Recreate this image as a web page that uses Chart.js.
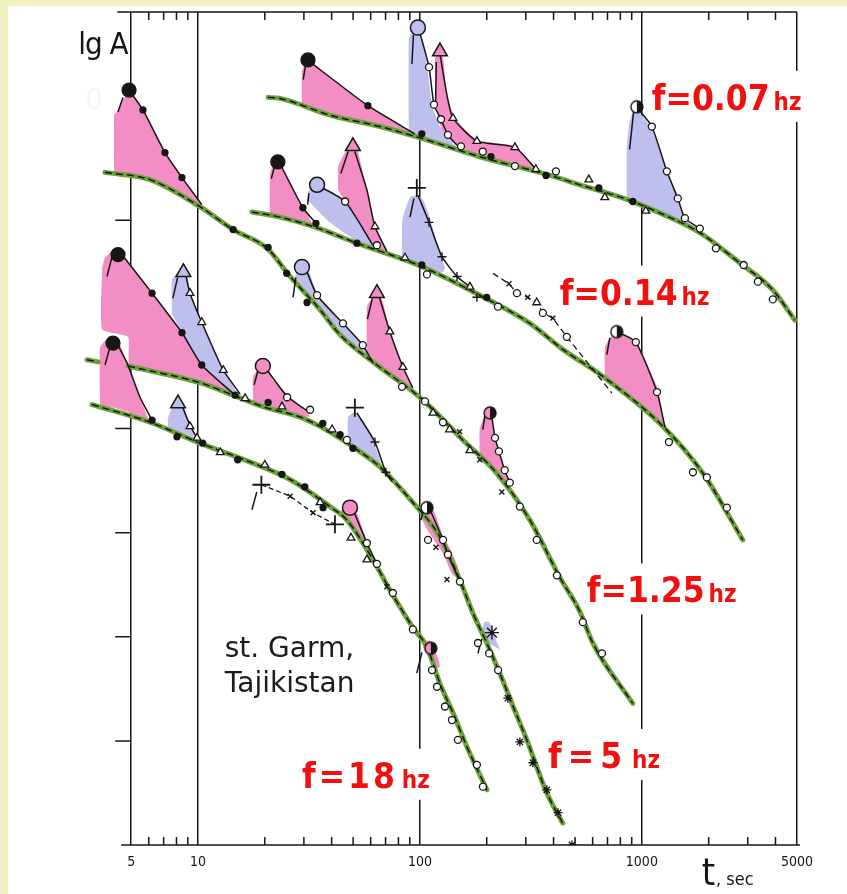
<!DOCTYPE html>
<html>
<head>
<meta charset="utf-8">
<title>Coda envelopes, st. Garm</title>
<script src="https://cdn.jsdelivr.net/npm/chart.js@4.4.1/dist/chart.umd.min.js"></script>
<style>
  html, body { margin: 0; padding: 0; background: #fff; overflow: hidden; }
  canvas { display: block; }
</style>
</head>
<body>
<canvas id="chart" width="847" height="894"></canvas>
<script>
// axis ticks (t in seconds, lgA in relative units)
const MAJOR_TICKS = [5, 10, 100, 1000, 5000];
const MINOR_TICKS = [6, 7, 8, 9, 20, 30, 40, 50, 60, 70, 80, 90, 200, 300, 400, 500, 600, 700, 800, 900, 2000, 3000, 4000];
const LG_TICKS = [1, 2, 3, 4, 5, 6, 7];

// frequency labels
const FREQ_TEXT = ["f=0.07", "f=0.14", "f=1.25", "f=5", "f=18"];
const FREQ_T = [1109, 427, 565, 378, 29.4];
const FREQ_A = [7.06, 5.19, 2.33, 0.74, 0.55];
const FREQ_GAP = [0, 0, 0, 6, 3];

// background coda curves [t, lgA]
const CODA_007 = [[20.7,7.18],[23.4,7.17],[39.3,7.01],[66,6.90],[97,6.80],[186,6.61],[373,6.44],[526,6.34],[855,6.20],[1205,6.07],[1825,5.88],[2760,5.59],[3890,5.33],[4890,5.04]];
const CODA_014 = [[17.5,6.08],[23.4,6.03],[33,5.94],[52,5.78],[93,5.59],[111,5.52],[186,5.28],[313,5.01],[440,4.76],[667,4.50],[1245,4.02],[1884,3.57],[2851,2.93]];
const CODA_125 = [[3.81,6.46],[6.08,6.39],[10.2,6.13],[14.4,5.91],[20.5,5.73],[26,5.46],[35.5,5.14],[43.7,4.90],[64,4.61],[94.8,4.34],[111,4.21],[156,3.89],[222,3.57],[313,3.12],[427,2.57],[526,2.24],[601,1.94],[910,1.36]];
const CODA_5 = [[3.16,4.66],[3.55,4.64],null,[4.84,4.60],[10.2,4.44],[14.4,4.32],[19.6,4.21],[28.8,4.11],[35.5,4.02],[57.7,3.73],[66.1,3.63],[92.9,3.29],[123,2.96],[151,2.55],[173,2.23],[200,1.94],[229,1.65],[263,1.33],[303,1.01],[373,0.50],[440,0.21]];
const CODA_18 = [[3.33,4.23],[6.08,4.06],[10.2,3.86],[17.1,3.68],[26,3.51],[39.3,3.25],[46.9,3.12],[61.4,2.74],[73.2,2.45],[92.9,2.09],[107.6,1.90],[123.1,1.55],[140.9,1.27],[163,0.94],[200.4,0.53]];

// shaded arrivals, pink
const PK_007_A = [[29.4,7.12],[29.4,7.43],[30.6,7.52],[32.6,7.51],[58.3,7.10],[92,6.84],[66,6.90],[39.3,7.01],[29.4,7.12]];
const PK_007_C = [[116.9,7.40],[116.9,7.55],[121,7.62],[126.9,7.57],[132.4,7.20],[143.8,6.98],[180.6,6.77],[268,6.71],[333,6.49],[300,6.51],[200,6.60],[151.4,6.70],[126.9,6.84],[119.4,7.06],[116.9,7.40]];
const PK_014_A = [[21.1,6.05],[21.1,6.45],[22.0,6.55],[23.5,6.55],[29.7,6.12],[32.6,5.97],[27,6.00],[21.1,6.05]];
const PK_014_C = [[42.8,6.29],[42.8,6.51],[46,6.65],[49.9,6.70],[52.5,6.66],[57.7,6.29],[62.7,5.94],[71,5.70],[64,5.74],[55,5.90],[48.4,6.10],[42.8,6.29]];
const PK_014_F = [[681,4.50],[681,4.78],[717,4.87],[771,4.93],[850,4.88],[939,4.82],[1011,4.70],[1170,4.40],[1245,4.03],[1000,4.22],[800,4.38],[681,4.50]];
const PK_125_A = [[4.19,6.44],[4.19,7.01],[4.36,7.06],[4.59,7.16],[4.89,7.22],[5.10,7.19],[5.65,7.06],[7.10,6.65],[8.47,6.41],[10.4,6.15],[7.88,6.26],[6.08,6.39],[4.19,6.44]];
const PK_125_C = [[57.7,4.68],[57.7,5.17],[61,5.25],[64.7,5.29],[68,5.22],[73.2,4.93],[83.8,4.59],[92.9,4.37],[83,4.44],[70,4.55],[59.6,4.66],[57.7,4.68]];
const PK_125_D = [[186,3.73],[186,4.00],[196,4.12],[207,4.16],[218,3.91],[227,3.78],[241,3.60],[256,3.42],[222,3.57],[186,3.73]];
const PK_5_A = [[3.70,5.54],[3.81,5.64],[4.10,5.70],[4.45,5.70],[6.21,5.30],[8.47,4.92],[10.4,4.61],[14.7,4.32],[10.2,4.44],[4.94,4.59],[4.84,4.88],[3.70,4.95],[3.70,5.54]];
const PK_5_C = [[17.7,4.24],[17.7,4.50],[18.6,4.56],[20.7,4.57],[21.8,4.46],[25.2,4.33],[32,4.12],[28.8,4.11],[23,4.17],[17.7,4.24]];
const PK_5_E = [[100,3.16],[104,3.23],[110,3.26],[116,3.20],[127,2.97],[136.5,2.85],[148.3,2.67],[151.4,2.55],[140,2.60],[127,2.80],[110,3.00],[100,3.16]];
const PK_18_A = [[3.62,4.21],[3.62,4.78],[3.9,4.86],[4.3,4.87],[4.79,4.63],[5.48,4.30],[6.0,4.06],[5.0,4.15],[4.2,4.20],[3.62,4.21]];
const PK_18_D = [[43.7,3.17],[44.5,3.22],[46.5,3.27],[50.5,3.25],[57.7,2.92],[64,2.70],[61.4,2.74],[52,2.98],[46.9,3.12],[43.7,3.17]];
const PK_18_E = [[103.2,1.90],[106,1.96],[112,1.96],[120.5,1.80],[123,1.71],[118,1.70],[110,1.80],[103.2,1.90]];

// shaded arrivals, lavender
const LV_007_B = [[89.1,6.82],[89.1,7.73],[93,7.82],[100,7.80],[107.6,7.50],[113.3,7.11],[123.1,6.90],[140.9,6.74],[146.9,6.70],[97,6.80],[89.1,6.82]];
const LV_007_D = [[855,6.20],[855,6.68],[880,6.95],[920,7.06],[960,7.05],[1109,6.88],[1296,6.47],[1452,6.21],[1563,6.02],[1825,5.88],[1205,6.07],[1000,6.14],[855,6.20]];
const LV_014_B = [[31.0,6.20],[31.5,6.28],[33.5,6.34],[36,6.32],[46,6.18],[61.4,5.76],[52,5.80],[39.3,5.98],[31.0,6.20]];
const LV_014_D = [[83.0,5.62],[83.0,5.95],[83.8,6.03],[90.2,6.22],[96.8,6.24],[103.2,6.20],[110.9,6.03],[119.4,5.78],[129.6,5.55],[126.9,5.50],[110,5.53],[96.8,5.57],[83,5.62]];
const LV_125_B = [[27.4,5.45],[27.9,5.52],[29.4,5.58],[31.5,5.52],[34.4,5.30],[45.0,5.01],[55.3,4.80],[61.4,4.63],[50,4.80],[43.7,4.90],[35.5,5.14],[30,5.33],[27.4,5.45]];
const LV_5_B = [[7.64,5.10],[7.64,5.43],[8.2,5.50],[8.9,5.50],[9.20,5.30],[10.4,5.02],[13.0,4.56],[15.0,4.34],[14.7,4.32],[10.4,4.61],[8.47,4.92],[7.64,5.10]];
const LV_5_D = [[47.4,3.85],[47.4,4.11],[49.9,4.15],[52,4.14],[59.6,3.96],[68.1,3.63],[74.8,3.49],[66,3.61],[57.7,3.73],[47.4,3.85]];
const LV_5_F = [[190,2.05],[195,2.14],[205,2.14],[213,2.08],[222,1.95],[229,1.88],[211,1.92],[200,1.96],[190,2.05]];
const LV_18_B = [[7.33,3.99],[7.33,4.10],[7.64,4.20],[8.13,4.27],[8.65,4.20],[9.20,4.03],[9.90,3.91],[8.7,3.95],[7.33,3.99]];

// hand-drawn envelope strokes (onsets and decays), one list per frequency
const LINES_007 = [
  [[29.8,7.35],[30.5,7.49]],
  [[31.5,7.53],[58.3,7.10],[94.8,6.83]],
  [[92.0,7.50],[93.5,7.78]],
  [[100,7.80],[109.9,7.47],[115.7,7.11],[124.4,6.97],[133.7,6.82],[146.9,6.72]],
  [[117.5,7.06],[118.5,7.52]],
  [[123.1,7.60],[132.4,7.20],[140.9,6.98],[180.6,6.76],[268,6.70],[333,6.49]],
  [[880,6.68],[920,7.06]],
  [[960,7.07],[1109,6.90],[1296,6.47],[1452,6.21],[1563,6.02],[1825,5.92]]
];
const LINES_014 = [
  [[21.4,6.40],[22.2,6.53]],
  [[23.3,6.55],[29.7,6.12],[34.0,5.97]],
  [[31.2,6.15],[31.6,6.26]],
  [[35,6.33],[46,6.18],[61.4,5.76]],
  [[44,6.45],[47.5,6.66]],
  [[50.9,6.66],[57.7,6.29],[62.7,5.94],[71,5.70]],
  [[90.2,6.03],[94,6.21]],
  [[98,6.24],[109.9,5.98],[125.7,5.65],[146.9,5.46],[168,5.36]],
  [[695,4.71],[717,4.87]],
  [[790,4.92],[939,4.83],[1170,4.35],[1271,4.01]]
];
const LINES_125 = [
  [[4.36,7.04],[4.59,7.18]],
  [[5.0,7.22],[5.65,7.06],[7.10,6.65],[8.47,6.41],[10.4,6.15]],
  [[26.8,5.26],[27.6,5.45]],
  [[30.5,5.54],[34.4,5.28],[45.0,5.01],[55.3,4.80],[61.4,4.63]],
  [[58,5.05],[61,5.25]],
  [[65.5,5.27],[73.2,4.93],[83.8,4.59],[92.9,4.39]],
  [[192,3.99],[196,4.12]],
  [[210,4.14],[218,3.91],[227,3.78],[241,3.60],[254,3.48]]
];
const LINES_5 = [
  [[3.89,5.46],[4.10,5.65]],
  [[4.5,5.68],[6.21,5.30],[8.47,4.92],[10.4,4.61],[14.7,4.32]],
  [[7.7,5.25],[8.1,5.45]],
  [[8.8,5.48],[9.20,5.30],[10.4,5.02],[13.0,4.56],[15.5,4.33]],
  [[17.9,4.42],[18.6,4.55]],
  [[20.5,4.56],[25.2,4.31],[32,4.15]],
  [[52,4.15],[62.7,3.87],[70.2,3.58],[74.8,3.49]],
  [[101,3.12],[104,3.22]],
  [[110,3.24],[127.1,2.93],[133.7,2.79],[151.4,2.53]],
  [[182.5,1.84],[190,1.98]]
];
const LINES_18 = [
  [[3.81,4.61],[4.01,4.78]],
  [[4.25,4.84],[4.79,4.63],[5.48,4.30],[6.21,4.08]],
  [[8.4,4.24],[9.20,4.03],[9.90,3.91]],
  [[17.5,3.22],[18.4,3.39]],
  [[50,3.22],[57.7,2.90],[64,2.70]],
  [[96.8,1.65],[102.1,1.85]]
];

// dashed auxiliary records
const DASH_014 = [[213.4,5.49],[251.9,5.39],[273.5,5.30],[306,5.26],[336,5.21],[358,5.11],[397,5.06],[459,4.88],[733,4.34]];
const DASH_18 = [[19.3,3.46],[26.0,3.35],[33.0,3.19],[41.4,3.08]];

// measured points by symbol
const DOTS_BIG = [[31.3,7.54],[22.9,6.56],[4.89,7.25],[4.36,5.67],[4.14,4.82]];
const DOTS = [[58.3,7.10],[102,6.83],[209,6.61],[370,6.43],[640,6.31],[910,6.18],[29.7,6.12],[34.0,5.97],[52,5.78],[102,5.57],[200,5.26],[5.65,7.06],[7.10,6.65],[8.47,6.41],[14.4,5.91],[20.7,5.74],[25.1,5.49],[31.0,5.21],[6.21,5.30],[8.47,4.92],[10.4,4.61],[14.7,4.32],[20.7,4.25],[36.5,4.05],[43.7,3.94],[49.9,3.81],[6.21,4.08],[8.04,3.92],[10.5,3.86],[15.1,3.70],[23.9,3.56],[30.3,3.44],[36.6,3.24]];
const CIRCLES = [[109.9,7.47],[115.7,7.11],[124.4,6.97],[133.7,6.82],[153.1,6.71],[192,6.66],[268,6.52],[410,6.47],[1109,6.90],[1296,6.47],[1452,6.21],[1563,6.02],[1825,5.92],[2154,5.73],[2876,5.57],[3333,5.41],[3890,5.24],
  [46,6.18],[64,5.76],[107.6,5.48],[224.6,5.17],[273.5,5.30],[358,5.11],[459,4.88],[939,4.83],[1170,4.35],[1324,3.87],[1698,3.58],[1963,3.53],[2416,3.24],
  [34.4,5.28],[45.0,5.01],[55.3,4.80],[83,4.40],[105.4,4.26],[127,4.06],[218,3.91],[227,3.78],[241,3.60],[254,3.48],[282,3.25],[336,2.93],[414,2.59],[542,2.14],[661,1.84],
  [25.2,4.30],[32,4.18],[46.9,3.89],[108.7,2.93],[127.1,2.93],[133.7,2.79],[151.4,2.53],[182.5,1.94],[205,1.84],[225,1.68],
  [57.7,2.90],[64,2.70],[75.5,2.42],[92.9,2.07],[113.3,1.68],[119.4,1.52],[129.6,1.33],[139.4,1.20],[148.3,1.01],[180.6,0.77],[192.3,0.56]];
const CIRCLES_BIG_LAV = [[97.9,7.85],[34.4,6.34],[29.4,5.55]];
const CIRCLES_BIG_PINK = [[19.6,4.60],[48.4,3.24]];
const TRI_BIG_PINK = [[123.1,7.62],[49.9,6.71],[64.0,5.30]];
const TRI_BIG_LAV = [[8.6,5.50],[8.13,4.24]];
const TRI = [[140.9,6.98],[180.6,6.76],[268,6.70],[333,6.49],[577,6.39],[681,6.22],[1042,6.09],
  [62.7,5.94],[85.6,5.64],[168,5.36],[336,5.21],
  [73.2,4.93],[83.8,4.59],[114.5,4.15],[136,3.99],[168,3.79],
  [9.20,5.30],[10.4,5.02],[13.0,4.56],[16.3,4.29],[23.9,4.21],[40.2,3.99],
  [9.20,4.02],[9.90,3.91],[12.6,3.77],[20.0,3.65],[35.5,3.29],[48.9,2.95],[57.7,2.74]];
const CROSS_BIG = [[96.8,6.31],[50.9,4.20],[19.3,3.46],[41.4,3.08]];
const CROSS = [[109.9,5.98],[125.7,5.65],[146.9,5.46],[180.6,5.26],[62.7,3.87],[70.2,3.58]];
const XMARKS = [[251.9,5.39],[306,5.26],[397,5.06],[151,3.97],[186,3.70],[234,3.39],[118.1,2.86],[132.4,2.55],[26,3.35],[33,3.19],[71.0,2.48]];
const STAR_BIG = [[211,2.04]];
const STARS = [[249,1.41],[282,0.99],[323,0.79],[373,0.53],[419,0.31],[484,0.0]];
const HALF_WHITE = [[949,7.09],[771,4.93],[107.6,3.24]];
const HALF_PINK = [[207,4.15],[112,1.89]];

const INK = "#161616";
const GREEN = "#6ba23a";
const PINK = "#f28ec3";
const LAV = "#bfbfee";
const RED = "#f2100f";
const EDGE = "#efefbf";
const CONDENSED = '"DejaVu Sans Condensed", "DejaVu Sans", sans-serif';
const NARROW = '"Liberation Sans Narrow", "DejaVu Sans Condensed", sans-serif';

const toPts = pairs => pairs.map(p => (p ? { x: p[0], y: p[1] } : { x: NaN, y: null }));
const joinSegs = segs => segs.flatMap((s, i) => (i ? [null, ...s] : s));

function shape(pairs, color) {
  return { data: toPts(pairs), fill: "shape", backgroundColor: color, borderColor: "transparent",
    borderWidth: 0, pointRadius: 0, tension: 0.15, order: 10 };
}

function coda(pairs) {
  return { data: toPts(pairs), borderColor: GREEN, borderWidth: 5, borderCapStyle: "round",
    pointRadius: 0, cubicInterpolationMode: "monotone", fill: false, order: 8 };
}

function codaDash(pairs) {
  return { data: toPts(pairs), borderColor: INK, borderWidth: 1.5, borderDash: [7, 4],
    pointRadius: 0, cubicInterpolationMode: "monotone", fill: false, order: 7 };
}

function strokes(segs) {
  return { data: toPts(joinSegs(segs)), borderColor: INK, borderWidth: 1.5, pointRadius: 0,
    tension: 0.2, fill: false, order: 6 };
}

function dashed(pairs, dash) {
  return { data: toPts(pairs), borderColor: INK, borderWidth: 1.3, borderDash: dash, pointRadius: 0,
    fill: false, order: 5 };
}

function marks(pairs, style, radius, bg, order = 2, bw = 1.3) {
  return { data: toPts(pairs), showLine: false, pointStyle: style, pointRadius: radius,
    pointBackgroundColor: bg, pointBorderColor: INK, pointBorderWidth: bw, order };
}

function halfDisc(left) {
  const c = document.createElement("canvas");
  c.width = c.height = 16;
  const g = c.getContext("2d");
  g.beginPath(); g.arc(8, 8, 6, Math.PI / 2, Math.PI * 1.5); g.fillStyle = left; g.fill();
  g.beginPath(); g.arc(8, 8, 6, -Math.PI / 2, Math.PI / 2); g.fillStyle = INK; g.fill();
  g.beginPath(); g.arc(8, 8, 6, 0, Math.PI * 2); g.lineWidth = 1.4; g.strokeStyle = INK; g.stroke();
  return c;
}

function freqLabel(ctx, x, y, i, draw) {
  const px = x.getPixelForValue(FREQ_T[i]);
  const py = y.getPixelForValue(FREQ_A[i]);
  ctx.font = `bold 35px ${CONDENSED}`;
  ctx.letterSpacing = FREQ_GAP[i] + "px";
  const w1 = ctx.measureText(FREQ_TEXT[i]).width;
  if (draw) ctx.fillText(FREQ_TEXT[i], px, py);
  ctx.font = `bold 24px ${CONDENSED}`;
  ctx.letterSpacing = "0px";
  const w2 = ctx.measureText("hz").width;
  if (draw) ctx.fillText("hz", px + w1 + 4, py);
  return { left: px, top: py - 27, width: w1 + 4 + w2, height: 27 };
}

const paper = {
  id: "paper",
  beforeDraw(chart) {
    const { ctx, width, height } = chart;
    ctx.save();
    ctx.fillStyle = EDGE;
    ctx.fillRect(0, 0, width, height);
    ctx.fillStyle = "#ffffff";
    ctx.fillRect(8, 6, width - 8, height - 6);
    ctx.restore();
  },
  beforeDatasetsDraw(chart) {
    const { ctx, chartArea: a, scales: { x, y } } = chart;
    const x5 = x.getPixelForValue(5);
    ctx.save();
    ctx.strokeStyle = INK;
    ctx.lineWidth = 1.5;
    ctx.beginPath();
    ctx.moveTo(x5 - 14, a.top); ctx.lineTo(a.right, a.top);
    ctx.moveTo(x5 - 10, a.bottom); ctx.lineTo(a.right + 3, a.bottom);
    for (const v of MINOR_TICKS) {
      const px = x.getPixelForValue(v);
      ctx.moveTo(px, a.top); ctx.lineTo(px, a.top + 8);
      ctx.moveTo(px, a.bottom); ctx.lineTo(px, a.bottom - 8);
    }
    for (const v of LG_TICKS) {
      const py = y.getPixelForValue(v);
      ctx.moveTo(x5 - 16, py); ctx.lineTo(x5, py);
    }
    ctx.stroke();
    // labels sit on white, which breaks the grid lines behind them
    ctx.fillStyle = "#ffffff";
    FREQ_TEXT.forEach((_, i) => {
      const b = freqLabel(ctx, x, y, i, false);
      ctx.fillRect(b.left - 4, b.top - 12, b.width + 8, b.height + 24);
    });
    ctx.restore();
  },
  afterDatasetsDraw(chart) {
    const { ctx, chartArea: a, scales: { x, y } } = chart;
    const x5 = x.getPixelForValue(5);
    ctx.save();
    ctx.textBaseline = "alphabetic";
    ctx.textAlign = "left";
    ctx.fillStyle = RED;
    FREQ_TEXT.forEach((_, i) => freqLabel(ctx, x, y, i, true));

    ctx.fillStyle = "#1c1c1c";
    ctx.font = '28px "DejaVu Sans", sans-serif';
    ctx.fillText("st. Garm,", x.getPixelForValue(13.2), y.getPixelForValue(1.81));
    ctx.fillText("Tajikistan", x.getPixelForValue(13.2), y.getPixelForValue(1.47));

    ctx.fillStyle = INK;
    ctx.font = `31px ${CONDENSED}`;
    ctx.letterSpacing = "-1px";
    ctx.fillText("lg A", x5 - 53, a.top + 42);
    ctx.letterSpacing = "0px";
    ctx.fillStyle = "#f5f5f5";
    ctx.fillText("0", x5 - 46, y.getPixelForValue(7.06));

    ctx.fillStyle = INK;
    const tx = x.getPixelForValue(1860);
    ctx.font = `38px ${CONDENSED}`;
    ctx.fillText("t", tx, a.bottom + 40);
    const tw = ctx.measureText("t").width;
    ctx.font = `18px ${CONDENSED}`;
    ctx.fillText(", sec", tx + tw + 1, a.bottom + 40);
    ctx.restore();
  }
};

const datasets = [
  shape(PK_007_A, PINK), shape(LV_007_B, LAV), shape(PK_007_C, PINK), shape(LV_007_D, LAV),
  shape(PK_014_A, PINK), shape(LV_014_B, LAV), shape(PK_014_C, PINK), shape(LV_014_D, LAV), shape(PK_014_F, PINK),
  shape(PK_125_A, PINK), shape(LV_125_B, LAV), shape(PK_125_C, PINK), shape(PK_125_D, PINK),
  shape(PK_5_A, PINK), shape(LV_5_B, LAV), shape(PK_5_C, PINK), shape(LV_5_D, LAV), shape(PK_5_E, PINK), shape(LV_5_F, LAV),
  shape(PK_18_A, PINK), shape(LV_18_B, LAV), shape(PK_18_D, PINK), shape(PK_18_E, PINK),
  coda(CODA_007), coda(CODA_014), coda(CODA_125), coda(CODA_5), coda(CODA_18),
  codaDash(CODA_007), codaDash(CODA_014), codaDash(CODA_125), codaDash(CODA_5), codaDash(CODA_18),
  strokes(LINES_007), strokes(LINES_014), strokes(LINES_125), strokes(LINES_5), strokes(LINES_18),
  dashed(DASH_014, [6, 4]), dashed(DASH_18, [5, 3]),
  marks(DOTS, "circle", 3, INK),
  marks(CIRCLES, "circle", 3.5, "#ffffff"),
  marks(TRI, "triangle", 4.5, "#ffffff"),
  marks(CROSS, "cross", 4.5, INK, 2, 1.4),
  marks(XMARKS, "crossRot", 3.5, INK, 2, 1.4),
  marks(STARS, "star", 4.5, INK, 2, 1.3),
  marks(DOTS_BIG, "circle", 7, INK, 1),
  marks(CIRCLES_BIG_LAV, "circle", 7.5, LAV, 1, 1.5),
  marks(CIRCLES_BIG_PINK, "circle", 7.5, PINK, 1, 1.5),
  marks(TRI_BIG_PINK, "triangle", 8.5, PINK, 1, 1.5),
  marks(TRI_BIG_LAV, "triangle", 8.5, LAV, 1, 1.5),
  marks(CROSS_BIG, "cross", 9, INK, 1, 1.8),
  marks(STAR_BIG, "star", 7, INK, 1, 1.4),
  marks(HALF_WHITE, halfDisc("#ffffff"), 6, INK, 1),
  marks(HALF_PINK, halfDisc(PINK), 6, INK, 1)
];

new Chart(document.getElementById("chart"), {
  type: "line",
  data: { datasets },
  options: {
    responsive: false,
    animation: false,
    events: [],
    layout: { padding: { left: 80, right: 50, top: 12, bottom: 0 } },
    plugins: { legend: { display: false }, tooltip: { enabled: false } },
    scales: {
      x: {
        type: "logarithmic",
        min: 2.94,
        max: 5000,
        bounds: "data",
        afterBuildTicks: s => { s.ticks = MAJOR_TICKS.map(v => ({ value: v })); },
        afterFit: s => { s.height = 49; },
        grid: { color: INK, lineWidth: 1.5, drawTicks: false },
        border: { display: false },
        ticks: {
          autoSkip: false, maxRotation: 0, padding: 9, color: INK,
          font: { family: NARROW, size: 14 },
          callback: v => String(v)
        }
      },
      y: { type: "linear", min: 0, max: 8, bounds: "data", display: false }
    }
  },
  plugins: [paper]
});
</script>
</body>
</html>
